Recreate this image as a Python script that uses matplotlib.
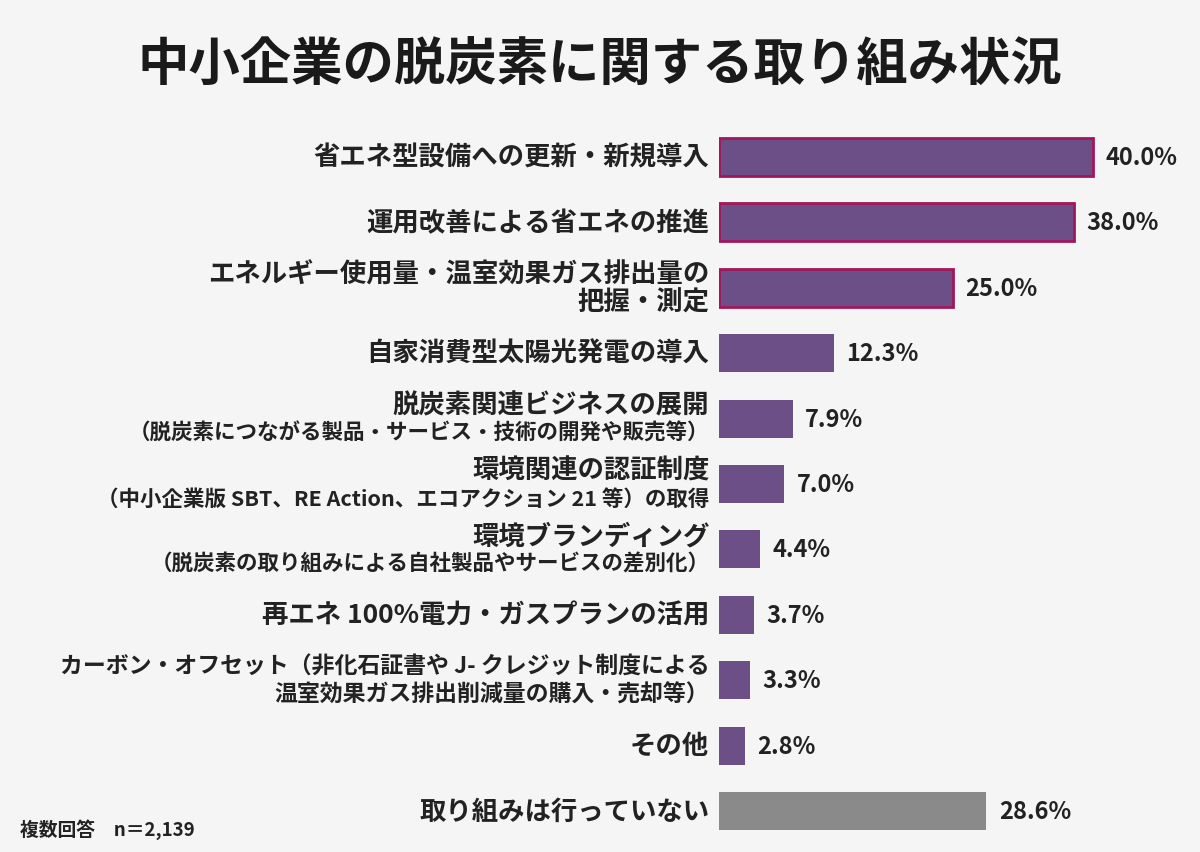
import matplotlib
matplotlib.use("Agg")
import matplotlib.pyplot as plt

plt.rcParams["font.family"] = ["Noto Sans CJK JP", "DejaVu Sans"]

TITLE = "中小企業の脱炭素に関する取り組み状況"
NOTE = "複数回答　n＝2,139"

LABELS = [
    "省エネ型設備への更新・新規導入",
    "運用改善による省エネの推進",
    "エネルギー使用量・温室効果ガス排出量の\n把握・測定",
    "自家消費型太陽光発電の導入",
    "脱炭素関連ビジネスの展開\n（脱炭素につながる製品・サービス・技術の開発や販売等）",
    "環境関連の認証制度\n（中小企業版 SBT、RE Action、エコアクション 21 等）の取得",
    "環境ブランディング\n（脱炭素の取り組みによる自社製品やサービスの差別化）",
    "再エネ 100%電力・ガスプランの活用",
    "カーボン・オフセット（非化石証書や J- クレジット制度による\n温室効果ガス排出削減量の購入・売却等）",
    "その他",
    "取り組みは行っていない",
]
VALUES = [40.0, 38.0, 25.0, 12.3, 7.9, 7.0, 4.4, 3.7, 3.3, 2.8, 28.6]
HIGHLIGHT = [True, True, True, False, False, False, False, False, False, False, False]
# font sizes for (first line, second line)
LINE_SIZES = [(19, 19), (19, 19), (19, 19), (19, 19), (19, 15.5), (19, 15.5),
              (19, 15.5), (19, 19), (16.5, 16.5), (19, 19), (19, 19)]

PURPLE = "#6d4f88"
EDGE = "#a3165a"
GRAY = "#8a8a8a"
BG = "#f5f5f5"

W, H = 1200, 853
fig = plt.figure(figsize=(12, 8.53), dpi=100, facecolor=BG)
left_px = 719
px_per_unit = 9.35
row_px = 65.4
first_row_px = 158
ax = fig.add_axes([left_px / W, 0, 1 - left_px / W, 1])
ax.set_facecolor(BG)
ax.set_xlim(0, (W - left_px) / px_per_unit)
ax.set_ylim((H - first_row_px) / row_px, -first_row_px / row_px)
ax.axis("off")

ys = list(range(len(VALUES)))
for y, v, hl in zip(ys, VALUES, HIGHLIGHT):
    color = GRAY if y == len(VALUES) - 1 else PURPLE
    ax.barh(y, v, height=0.58, color=color,
            edgecolor=EDGE if hl else "none", linewidth=2 if hl else 0)
    ax.annotate(f"{v:.1f}%", (v, y), xytext=(9, 0), textcoords="offset points",
                ha="left", va="center", fontsize=17, fontweight="bold", color="#222222")

for y, lab, sizes in zip(ys, LABELS, LINE_SIZES):
    lines = lab.split("\n")
    if len(lines) == 1:
        ax.annotate(lines[0], (0, y), xytext=(-7, 0), textcoords="offset points",
                    ha="right", va="center", fontsize=sizes[0], fontweight="bold",
                    color="#222222", annotation_clip=False)
    else:
        for k, (line, off) in enumerate(zip(lines, (10, -10))):
            ax.annotate(line, (0, y), xytext=(-7, off), textcoords="offset points",
                        ha="right", va="center", fontsize=sizes[k], fontweight="bold",
                        color="#222222", annotation_clip=False)

fig.text(0.5, 1 - 65 / H, TITLE, ha="center", va="center", fontsize=37,
         fontweight="bold", color="#1a1a1a")
fig.text(20 / W, 1 - 830 / H, NOTE, ha="left", va="center", fontsize=13.5,
         fontweight="bold", color="#222222")

fig.savefig("out.png", dpi=100, facecolor=BG)
